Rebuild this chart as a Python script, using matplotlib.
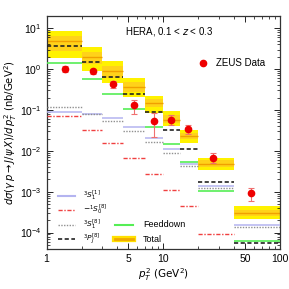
import matplotlib
matplotlib.use('Agg')
import matplotlib.pyplot as plt
from matplotlib.lines import Line2D
from matplotlib.ticker import FixedLocator, NullFormatter, LogLocator
import numpy as np

plt.rcParams['font.family'] = ['Liberation Sans', 'DejaVu Sans']
plt.rcParams['mathtext.fontset'] = 'dejavusans'

# pT^2 bin edges (GeV^2)
edges = [1, 2, 3, 4.5, 7, 10, 14, 20, 40, 100]

# theory curves per bin (nb/GeV^2)
s1_singlet = [0.09, 0.08, 0.064, 0.038, 0.021, 0.011, 4.8e-3, 1.4e-3, 1.5e-4]
s0_octet = [0.072, 0.032, 0.0155, 0.0067, 0.0027, 0.0011, 4.5e-4, 9.3e-5, 1.2e-5]
s1_octet = [0.12, 0.08, 0.053, 0.031, 0.0166, 0.0087, 4.2e-3, 1.26e-3, 1.4e-4]
pj_octet = [3.6, 1.5, 0.65, 0.25, 0.088, 0.032, 0.011, 1.75e-3, 5.5e-5]
feeddown = [1.4, 0.57, 0.25, 0.103, 0.038, 0.0149, 5.4e-3, 1.03e-3, 6.3e-5]

total_lo = [1.85, 0.88, 0.46, 0.21, 0.085, 0.040, 0.0155, 0.0034, 2.1e-4]
total_hi = [8.7, 3.5, 1.55, 0.60, 0.225, 0.093, 0.033, 0.0068, 4.4e-4]
inner_lo = [2.8, 1.35, 0.62, 0.27, 0.12, 0.048, 0.019, 0.0040, 2.5e-4]
inner_hi = [6.6, 2.6, 1.2, 0.47, 0.19, 0.075, 0.028, 0.0058, 3.6e-4]
total_c = [5.0, 2.0, 0.9, 0.36, 0.15, 0.058, 0.0225, 0.0048, 3.0e-4]

# ZEUS data
zeus_x = [1.45, 2.49, 3.69, 5.65, 8.4, 11.7, 16.4, 26.5, 56.5]
zeus_y = [1.0, 0.88, 0.42, 0.134, 0.054, 0.058, 0.034, 0.0068, 0.00095]
zeus_lo = [0.85, 0.75, 0.34, 0.081, 0.022, 0.042, 0.026, 0.0049, 0.0006]
zeus_hi = [1.18, 1.03, 0.52, 0.174, 0.085, 0.077, 0.042, 0.0088, 0.00126]

# line styles
c_s1 = '#b4b4f0'
c_s0 = '#f04040'
c_s8 = '#909090'
c_pj = '#222222'
c_fd = '#55ee55'
ls_s0 = (0, (3, 1.2, 1, 1.2))
ls_s8 = (0, (1, 1))
ls_pj = (0, (2.5, 1.5))

fig = plt.figure(figsize=(2.89, 2.89), dpi=100)
ax = fig.add_axes([0.161, 0.139, 0.808, 0.806])

left = np.array(edges[:-1])
right = np.array(edges[1:])
width = right - left

# total band
ax.bar(left, np.array(total_hi) - np.array(total_lo), bottom=total_lo, width=width,
       align='edge', color='#fff200', linewidth=0, zorder=1)
ax.bar(left, np.array(inner_hi) - np.array(inner_lo), bottom=inner_lo, width=width,
       align='edge', color='#ffd21a', linewidth=0, zorder=1.5)
ax.hlines(total_c, left, right, color='#f0a000', lw=1.0, zorder=2)

ax.hlines(s1_singlet, left, right, color=c_s1, lw=1.1, zorder=3)
ax.hlines(s0_octet, left, right, color=c_s0, lw=1.0, linestyles=ls_s0, zorder=3)
ax.hlines(s1_octet, left, right, color=c_s8, lw=1.0, linestyles=ls_s8, zorder=3)
ax.hlines(feeddown, left, right, color=c_fd, lw=1.2, zorder=3)
ax.hlines(pj_octet, left, right, color=c_pj, lw=1.2, linestyles=ls_pj, zorder=4)

# data
yerr = [np.array(zeus_y) - np.array(zeus_lo), np.array(zeus_hi) - np.array(zeus_y)]
ax.errorbar(zeus_x, zeus_y, yerr=yerr, fmt='o', color='#ee0000', ms=4.5,
            ecolor='#f07070', elinewidth=0.8, capsize=2, capthick=0.8, zorder=6)

ax.set_xscale('log')
ax.set_yscale('log')
ax.set_xlim(1, 100)
ax.set_ylim(4e-5, 20)

ax.xaxis.set_major_locator(FixedLocator([1, 5, 10, 50, 100]))
ax.xaxis.set_major_formatter(plt.FixedFormatter(['1', '5', '10', '50', '100']))
ax.xaxis.set_minor_locator(FixedLocator([2, 3, 4, 6, 7, 8, 9, 20, 30, 40, 60, 70, 80, 90]))
ax.xaxis.set_minor_formatter(NullFormatter())
ax.yaxis.set_major_locator(LogLocator(base=10, numticks=10))
ax.yaxis.set_minor_locator(LogLocator(base=10, subs=np.arange(2, 10), numticks=20))
ax.yaxis.set_minor_formatter(NullFormatter())

ax.tick_params(which='both', direction='in', top=True, right=True, labelsize=7.5)
ax.tick_params(which='major', length=4, width=0.6)
ax.tick_params(which='minor', length=2, width=0.5)
for s in ax.spines.values():
    s.set_linewidth(0.9)
    s.set_color('#333333')

ax.set_xlabel(r'$p_T^2\ \left(\mathrm{GeV}^2\right)$', fontsize=7.5, labelpad=2)
ax.set_ylabel(r'$d\sigma(\gamma\, p\rightarrow J/\psi\, X)/d\,p_T^2\ \left(\mathrm{nb}/\mathrm{GeV}^2\right)$',
              fontsize=7.2, labelpad=1)

ax.text(0.525, 0.935, r'HERA, 0.1 < $z$ < 0.3', transform=ax.transAxes, fontsize=7,
        ha='center', va='center')

zeus_handle = Line2D([], [], marker='o', color='#ee0000', ls='none', ms=4.5)
ax.legend([zeus_handle], ['ZEUS Data'], loc='upper left', bbox_to_anchor=(0.613, 0.834),
          frameon=False, fontsize=7, handletextpad=0.3, borderaxespad=0)

# legend, drawn by hand in axes coordinates (two columns)
tr = ax.transAxes
rows = [0.228, 0.166, 0.104, 0.042]
col1 = [
    (dict(color=c_s1, lw=1.5), r'$^3S_1^{[1]}$'),
    (dict(color=c_s0, lw=1.0, ls=ls_s0), r'$-^1S_0^{[8]}$'),
    (dict(color=c_s8, lw=1.0, ls=ls_s8), r'$^3S_1^{[8]}$'),
    (dict(color=c_pj, lw=1.2, ls=ls_pj), r'$^3P_J^{[8]}$'),
]
for yy, (kw, lab) in zip(rows, col1):
    ax.add_line(Line2D([0.049, 0.122], [yy, yy], transform=tr, **kw))
    ax.text(0.156, yy - 0.011, lab, transform=tr, fontsize=5.4, va='baseline', ha='left')

ax.add_line(Line2D([0.293, 0.370], [rows[2], rows[2]], transform=tr, color=c_fd, lw=1.5))
ax.text(0.413, rows[2], 'Feeddown', transform=tr, fontsize=6.5, va='center', ha='left')
ax.add_line(Line2D([0.293, 0.370], [rows[3], rows[3]], transform=tr, color='#ffe000', lw=4.5))
ax.add_line(Line2D([0.293, 0.370], [rows[3], rows[3]], transform=tr, color='#f0a800', lw=2))
ax.text(0.413, rows[3], 'Total', transform=tr, fontsize=6.5, va='center', ha='left')

fig.savefig('out.png', dpi=100)
